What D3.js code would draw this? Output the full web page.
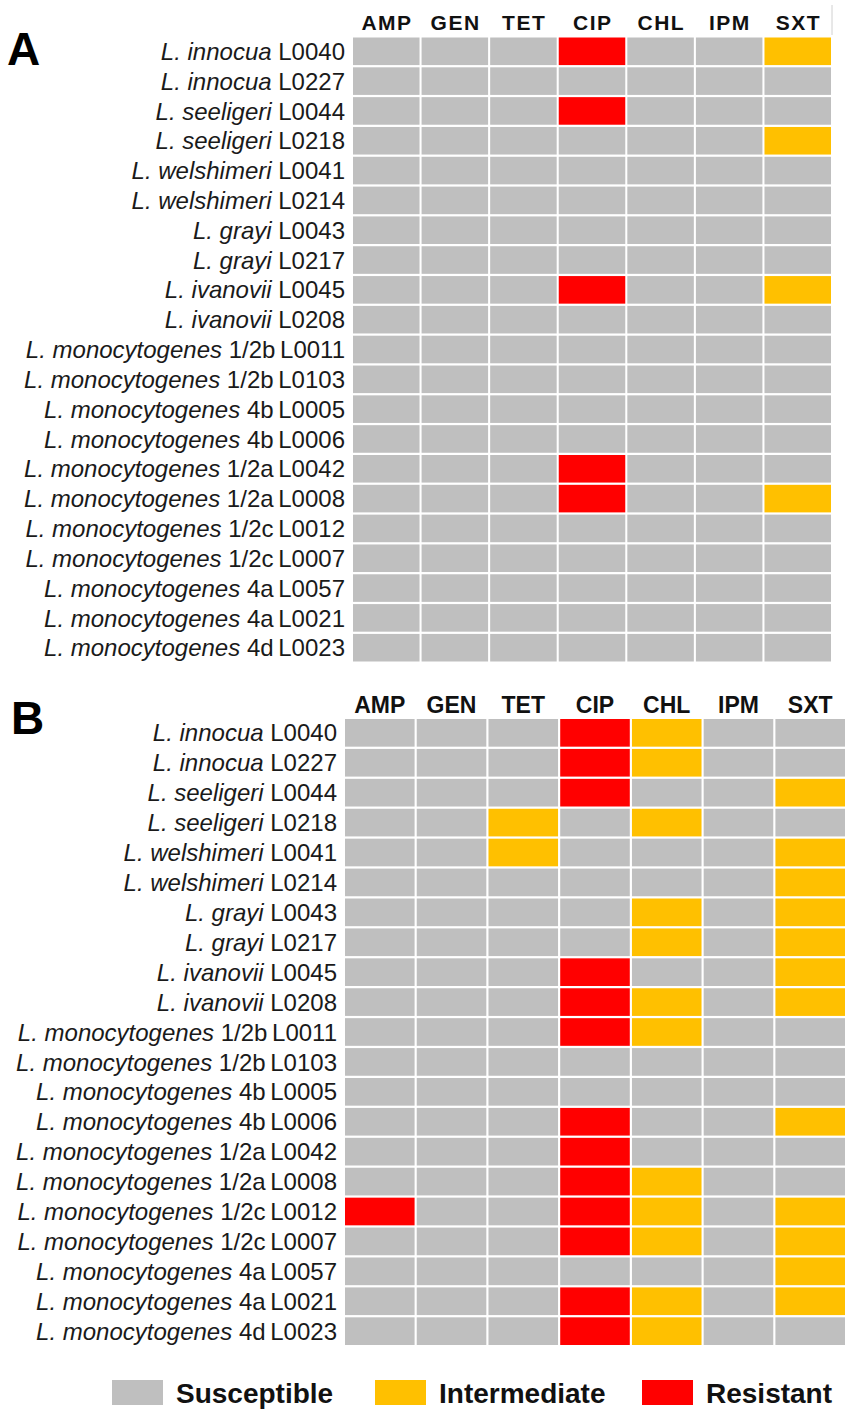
<!DOCTYPE html>
<html><head><meta charset="utf-8">
<script src="https://cdn.jsdelivr.net/npm/d3@7"></script>
<style>
html,body{margin:0;padding:0;background:#fff;}
svg{display:block;font-family:"Liberation Sans",Arial,sans-serif;}
</style></head>
<body>
<svg id="chart" width="851" height="1414"></svg>
<script>
// ---- data ----
const antibiotics = ["AMP","GEN","TET","CIP","CHL","IPM","SXT"];
const species = ["L. innocua","L. innocua","L. seeligeri","L. seeligeri","L. welshimeri","L. welshimeri",
  "L. grayi","L. grayi","L. ivanovii","L. ivanovii",
  "L. monocytogenes","L. monocytogenes","L. monocytogenes","L. monocytogenes","L. monocytogenes",
  "L. monocytogenes","L. monocytogenes","L. monocytogenes","L. monocytogenes","L. monocytogenes","L. monocytogenes"];
const serotypes = ["","","","","","","","","","","1/2b","1/2b","4b","4b","1/2a","1/2a","1/2c","1/2c","4a","4a","4d"];
const strainIds = ["L0040","L0227","L0044","L0218","L0041","L0214","L0043","L0217","L0045","L0208",
  "L0011","L0103","L0005","L0006","L0042","L0008","L0012","L0007","L0057","L0021","L0023"];
// S = susceptible, I = intermediate, R = resistant; columns follow `antibiotics`
const panelA = [
  "SSSRSSI","SSSSSSS","SSSRSSS","SSSSSSI","SSSSSSS","SSSSSSS","SSSSSSS","SSSSSSS","SSSRSSI","SSSSSSS",
  "SSSSSSS","SSSSSSS","SSSSSSS","SSSSSSS","SSSRSSS","SSSRSSI","SSSSSSS","SSSSSSS","SSSSSSS","SSSSSSS","SSSSSSS"];
const panelB = [
  "SSSRISS","SSSRISS","SSSRSSI","SSISISS","SSISSSI","SSSSSSI","SSSSISI","SSSSISI","SSSRSSI","SSSRISI",
  "SSSRISS","SSSSSSS","SSSSSSS","SSSRSSI","SSSRSSS","SSSRISS","RSSRISI","SSSRISI","SSSSSSI","SSSRISI","SSSRISS"];
const categories = ["S","I","R"];
const categoryNames = ["Susceptible","Intermediate","Resistant"];
const categoryColors = ["#bfbfbf","#ffc000","#ff0000"];

const svg = d3.select("#chart");
const color = d3.scaleOrdinal().domain(categories).range(categoryColors);
const rowIdx = d3.range(strainIds.length);

function panel(cfg){
  const g = svg.append("g");
  const x = d3.scaleBand().domain(antibiotics).range([cfg.x0,cfg.x1]).paddingInner(0.03).paddingOuter(0);
  const y = d3.scaleBand().domain(rowIdx).range([cfg.y0,cfg.y1]).paddingInner(0.075).paddingOuter(0);
  const cells = [];
  cfg.data.forEach((row,i)=>{ row.split("").forEach((v,j)=>cells.push({i, ab:antibiotics[j], v})); });
  g.selectAll("rect.cell").data(cells).join("rect").attr("class","cell")
    .attr("x",d=>x(d.ab)).attr("y",d=>y(d.i))
    .attr("width",x.bandwidth()).attr("height",y.bandwidth())
    .attr("fill",d=>color(d.v));
  // column headers
  g.selectAll("text.hdr").data(antibiotics).join("text").attr("class","hdr")
    .attr("x",d=>x(d)+x.bandwidth()/2+cfg.hdrLS/2).attr("y",cfg.hdrY)
    .attr("text-anchor","middle").attr("font-weight","bold")
    .attr("font-size",cfg.hdrSize).attr("letter-spacing",cfg.hdrLS)
    .attr("fill","#111").text(d=>d);
  // row labels
  const lab = g.selectAll("text.lab").data(rowIdx).join("text").attr("class","lab")
    .attr("x",cfg.x0-cfg.labGap).attr("y",d=>y(d)+y.bandwidth()/2)
    .attr("dy","0.36em").attr("text-anchor","end").attr("font-size",24).attr("fill","#1a1a1a");
  lab.append("tspan").attr("font-style","italic").text(d=>species[d]);
  lab.append("tspan").text(d=>serotypes[d] ? " " + serotypes[d] : "");
  lab.append("tspan").attr("dx",d=>serotypes[d]?-2:0).text(d=>" " + strainIds[d]);
  // panel letter
  g.append("text").attr("x",cfg.letterX).attr("y",cfg.letterY)
    .attr("font-size",46).attr("font-weight","bold").attr("fill","#000").text(cfg.letter);
}

panel({data:panelA, x0:353, x1:831, y0:37.5, y1:661.5, hdrY:30, hdrSize:21, hdrLS:1.5,
  labGap:8, letter:"A", letterX:7, letterY:65});
panel({data:panelB, x0:345, x1:845, y0:719, y1:1345, hdrY:713, hdrSize:23, hdrLS:0,
  labGap:8, letter:"B", letterX:11, letterY:734});

// faint artifact line at top-right of panel A header
svg.append("line").attr("x1",832).attr("x2",832).attr("y1",5).attr("y2",35)
  .attr("stroke","#d0d0d0").attr("stroke-width",1);

// legend
const legX = [112, 375, 642];
const leg = svg.append("g").selectAll("g").data(categories).join("g");
leg.append("rect").attr("x",(d,i)=>legX[i]).attr("y",1380).attr("width",51).attr("height",25)
  .attr("fill",d=>color(d));
leg.append("text").attr("x",(d,i)=>legX[i]+64).attr("y",1403)
  .attr("font-size",28).attr("font-weight","bold").attr("fill","#111")
  .text((d,i)=>categoryNames[i]);
</script>
</body></html>
